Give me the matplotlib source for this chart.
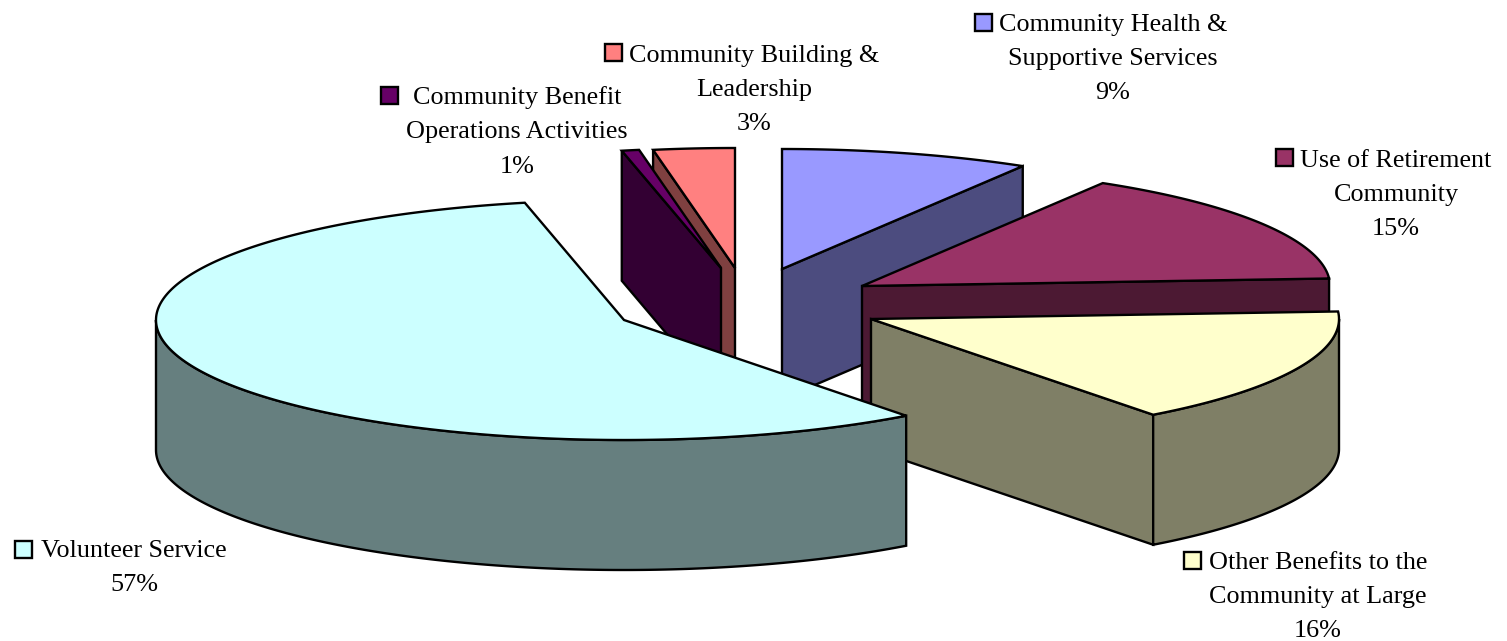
import numpy as np
import matplotlib
matplotlib.use("Agg")
import matplotlib.pyplot as plt
from matplotlib.patches import Polygon, Rectangle

# Shares, clockwise from 12 o'clock
labels = ["Community Health &\nSupportive Services",
          "Use of Retirement\nCommunity",
          "Other Benefits to the\nCommunity at Large",
          "Volunteer Service",
          "Community Benefit\nOperations Activities",
          "Community Building &\nLeadership"]
values = [8.6, 15.4, 15.7, 56.9, 0.6, 2.8]
top_colors = ["#9999FF", "#993366", "#FFFFCC", "#CCFFFF", "#660066", "#FF8080"]
side_colors = ["#4C4C7F", "#4C1933", "#7F7F66", "#667F7F", "#330033", "#7F4040"]

# Layout in pixels
centers = [(782, 269), (862, 286), (871, 319), (624, 320), (721, 268), (735, 268)]
label_pos = [(1113, 59), (1396, 195), (1318, 597), (134, 568), (517, 132), (754, 90)]
key_pos = [(983.5, 22), (1284, 157.5), (1192, 560), (23.5, 549), (389, 95), (613.5, 52.5)]
draw_order = [0, 1, 2, 5, 4, 3]
RX, RY, DEPTH = 468, 120, 130
LW = 1.7

fig = plt.figure(figsize=(15.07, 6.41), dpi=100)
ax = fig.add_axes([0, 0, 1, 1])
ax.set_xlim(0, 1507)
ax.set_ylim(641, 0)
ax.axis("off")


def rim(cx, cy, t):
    return cx + RX * np.sin(t), cy - RY * np.cos(t)


def poly(xy, color):
    ax.add_patch(Polygon(xy, closed=True, facecolor=color, edgecolor="black",
                         linewidth=LW, joinstyle="miter"))


edges = np.radians(np.concatenate([[0], np.cumsum(values)]) * 3.6)

for i in draw_order:
    cx, cy = centers[i]
    t1, t2 = edges[i], edges[i + 1]

    # flat walls, only those facing the viewer
    for t, visible in ((t1, np.sin(t1) < -1e-6), (t2, np.sin(t2) > 1e-6)):
        if visible:
            x, y = rim(cx, cy, t)
            poly([(cx, cy), (x, y), (x, y + DEPTH), (cx, cy + DEPTH)], side_colors[i])

    # curved wall, front half of the ellipse only
    a, b = max(t1, np.pi / 2), min(t2, 3 * np.pi / 2)
    if a < b:
        x, y = rim(cx, cy, np.linspace(a, b, 200))
        xy = np.r_[np.c_[x, y], np.c_[x, y + DEPTH][::-1]]
        poly(xy, side_colors[i])

    # top face
    x, y = rim(cx, cy, np.linspace(t1, t2, 300))
    poly(np.r_[[(cx, cy)], np.c_[x, y]], top_colors[i])

for i in range(len(values)):
    ax.text(label_pos[i][0], label_pos[i][1], f"{labels[i]}\n{values[i]:.0f}%",
            family="Liberation Serif", fontsize=18.8, ha="center", va="center",
            ma="center", linespacing=1.72, color="black")
    kx, ky = key_pos[i]
    ax.add_patch(Rectangle((kx - 8.5, ky - 8.5), 17, 17, facecolor=top_colors[i],
                           edgecolor="black", linewidth=1.7))

fig.savefig("out.png", dpi=100)
